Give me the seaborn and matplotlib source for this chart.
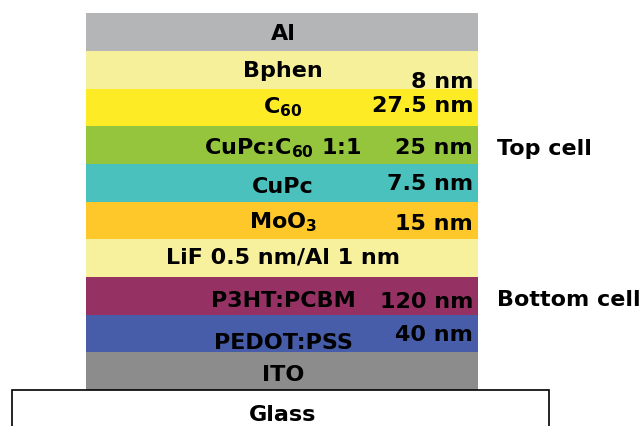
import matplotlib
matplotlib.use("Agg")
import matplotlib.pyplot as plt
import seaborn as sns
import pandas as pd

# --- data: layer stack of the tandem cell (top to bottom) ---
layers = ["Al", "Bphen", "C60", "CuPc:C60", "CuPc", "MoO3", "LiF/Al",
          "P3HT:PCBM", "PEDOT:PSS", "ITO", "Glass"]
layer_labels = ["Al", "Bphen", r"C$_{60}$", r"CuPc:C$_{60}$ 1:1", "CuPc",
                r"MoO$_{3}$", "LiF 0.5 nm/Al 1 nm", "P3HT:PCBM", "PEDOT:PSS",
                "ITO", "Glass"]
thickness = ["", "8 nm", "27.5 nm", "25 nm", "7.5 nm", "15 nm", "",
             "120 nm", "40 nm", "", ""]
cell_names = ["Top cell", "Bottom cell"]
cell_layers = ["CuPc:C60", "P3HT:PCBM"]

layer_colors = ["#B3B5B7", "#F6F09A", "#FDEB26", "#95C43D", "#4BC1BE",
                "#FEC82A", "#F7F09C", "#953263", "#475DAA", "#8C8C8C"]

# --- layout (pixel units on x) ---
STACK_LEFT, STACK_RIGHT = 86, 478
GLASS_LEFT, GLASS_RIGHT = 12, 549
LABEL_X = 283
THICK_X = 473
CELL_X = 497
# baseline offsets from layer centre, in pixels
label_dy = [7.5, 7.4, 5.8, 9.2, 10.6, 8, 5.4, 10.8, 15.2, 9.6, 12]
thick_dy = [0, 17.9, 4.8, 9.2, 7.6, 9, 0, 11.8, 7.2, 0, 0]
cell_dy = [10.2, 10.0]

df = pd.DataFrame({"layer": layers})
df["span"] = [STACK_RIGHT - STACK_LEFT] * (len(layers) - 1) + [GLASS_RIGHT - GLASS_LEFT]

plt.rcParams["font.family"] = ["DejaVu Sans"]
plt.rcParams["mathtext.fontset"] = "dejavusans"
plt.rcParams["mathtext.default"] = "bf"

fig = plt.figure(figsize=(6.41, 4.26), dpi=100)
ax = fig.add_axes([0, 0, 1, 1])

stack = df[df["layer"] != "Glass"]
palette = dict(zip(layers[:-1], layer_colors))
sns.barplot(data=stack, x="span", y="layer", hue="layer", order=layers,
            palette=palette, saturation=1, width=1.0, errorbar=None,
            legend=False, linewidth=0, left=STACK_LEFT, ax=ax)
sns.barplot(data=df[df["layer"] == "Glass"], x="span", y="layer", order=layers,
            color="white", saturation=1, edgecolor="black", linewidth=1.2,
            width=1.0, errorbar=None, left=GLASS_LEFT, ax=ax)

ax.set_xlim(0, 641)
ax.set_ylim(10.45, -0.85)
ax.axis("off")
px = 426 / 11.3  # pixels per layer

txt = dict(fontsize=16, fontweight="bold", color="black")
for i, lab in enumerate(layer_labels):
    ax.text(LABEL_X, i + label_dy[i] / px, lab, ha="center", va="baseline", **txt)
    if thickness[i]:
        ax.text(THICK_X, i + thick_dy[i] / px, thickness[i], ha="right", va="baseline", **txt)

for name, lay, dy in zip(cell_names, cell_layers, cell_dy):
    i = layers.index(lay)
    ax.text(CELL_X, i + dy / px, name, ha="left", va="baseline", **txt)

fig.savefig("out.png", dpi=100, facecolor="white")
